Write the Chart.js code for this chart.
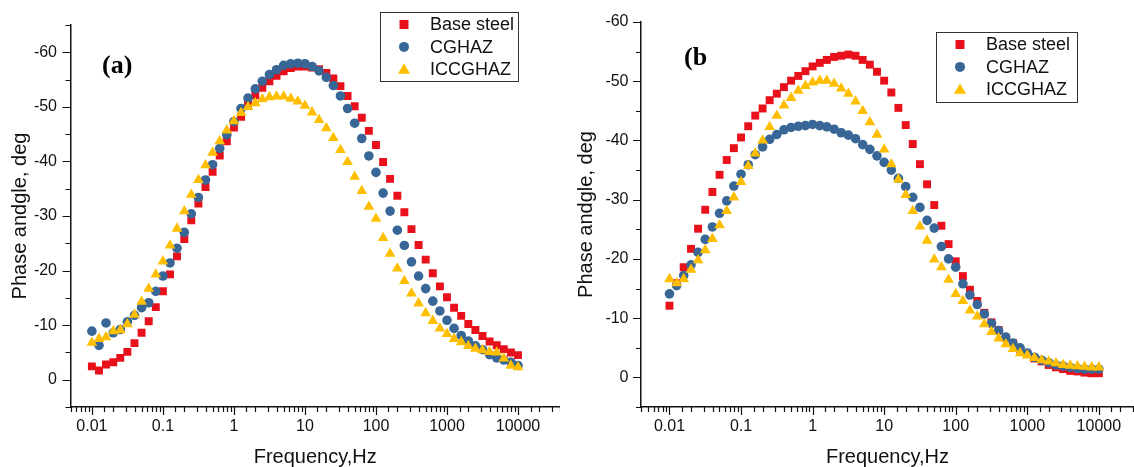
<!DOCTYPE html>
<html>
<head>
<meta charset="utf-8">
<script src="https://cdn.jsdelivr.net/npm/chart.js@4/dist/chart.umd.min.js"></script>
<style>
  html, body { margin: 0; padding: 0; background: #fff; }
  body { width: 1134px; height: 467px; position: relative; overflow: hidden; }
  canvas { position: absolute; top: 0; }
  #chartA { left: 0; }
  #chartB { left: 560px; }
</style>
</head>
<body>
<canvas id="chartA" width="560" height="467"></canvas>
<canvas id="chartB" width="574" height="467"></canvas>
<script>
// sweep frequencies, Hz (10 points per decade)
const frequency = [
    0.01, 0.0126, 0.0158, 0.02, 0.0251, 0.0316, 0.0398, 0.0501, 0.0631, 0.0794,
    0.1, 0.126, 0.158, 0.2, 0.251, 0.316, 0.398, 0.501, 0.631, 0.794,
    1, 1.26, 1.58, 2, 2.51, 3.16, 3.98, 5.01, 6.31, 7.94,
    10, 12.6, 15.8, 20, 25.1, 31.6, 39.8, 50.1, 63.1, 79.4,
    100, 126, 158, 200, 251, 316, 398, 501, 631, 794,
    1000, 1259, 1585, 1995, 2512, 3162, 3981, 5012, 6310, 7943, 10000
];

// panel (a), phase angle in deg
const baseSteelA = [
    -2.45, -1.7, -2.8, -3.2, -4.0, -5.1, -6.7, -8.6, -10.7, -13.3,
    -16.2, -19.3, -22.6, -25.8, -29.2, -32.3, -35.3, -38.1, -41.1, -43.7,
    -46.2, -48.2, -50.6, -52.1, -53.5, -54.7, -55.7, -56.5, -57.1, -57.4,
    -57.4, -57.2, -56.9, -56.2, -55.2, -53.8, -52.0, -50.1, -48.0, -45.6,
    -43.0, -39.9, -36.8, -33.7, -30.7, -27.6, -24.7, -22.0, -19.5, -17.1,
    -15.1, -13.2, -11.7, -10.2, -9.1, -8.0, -7.0, -6.3, -5.6, -5.0, -4.5
];
const cghazA = [
    -8.9, -6.3, -10.4, -8.6, -9.2, -10.6, -11.8, -13.2, -14.1, -16.2,
    -19.0, -21.4, -24.1, -27.0, -30.4, -33.4, -36.6, -39.4, -42.4, -44.9,
    -47.3, -49.7, -51.6, -53.3, -54.7, -55.9, -56.8, -57.6, -57.9, -58.0,
    -57.9, -57.4, -56.6, -55.4, -53.9, -52.0, -49.7, -47.0, -44.2, -41.0,
    -38.0, -34.2, -30.9, -27.4, -24.6, -21.6, -19.0, -16.7, -14.4, -12.6,
    -10.9, -9.4, -8.1, -7.1, -6.2, -5.5, -4.6, -4.0, -3.6, -3.2, -2.6
];
const iccghazA = [
    -6.8, -7.5, -7.8, -8.9, -9.1, -10.2, -11.9, -14.3, -16.7, -19.3,
    -21.7, -24.6, -27.7, -30.9, -33.9, -36.6, -39.3, -41.6, -43.7, -45.7,
    -47.4, -48.9, -50.0, -50.7, -51.4, -51.8, -51.9, -51.9, -51.5, -51.0,
    -50.2, -49.0, -47.6, -46.1, -44.3, -42.1, -39.9, -37.2, -34.6, -31.7,
    -29.5, -26.0, -23.1, -20.4, -18.1, -15.8, -14.0, -12.2, -10.8, -9.4,
    -8.4, -7.5, -6.9, -6.2, -5.7, -5.4, -5.1, -5.0, -3.9, -2.6, -2.3
];

// panel (b)
const baseSteelB = [
    -12.1, -15.9, -18.6, -21.7, -25.1, -28.3, -31.3, -34.2, -36.7, -38.7,
    -40.5, -42.4, -44.2, -45.4, -46.8, -47.9, -49.0, -50.1, -50.9, -51.7,
    -52.5, -53.1, -53.6, -54.1, -54.3, -54.5, -54.3, -53.6, -52.8, -51.6,
    -50.1, -48.1, -45.5, -42.6, -39.4, -36.0, -32.6, -29.1, -25.6, -22.5,
    -19.6, -17.1, -14.8, -12.9, -10.9, -9.3, -8.0, -6.7, -5.8, -4.8,
    -4.0, -3.2, -2.7, -2.1, -1.7, -1.4, -1.1, -1.0, -0.8, -0.7, -0.7
];
const cghazB = [
    -14.1, -15.5, -17.2, -19.0, -21.1, -23.3, -25.4, -27.7, -29.8, -32.3,
    -34.3, -35.9, -37.6, -38.9, -40.2, -41.0, -41.8, -42.2, -42.4, -42.5,
    -42.7, -42.5, -42.3, -41.9, -41.3, -40.9, -40.3, -39.3, -38.5, -37.4,
    -36.3, -35.0, -33.6, -32.2, -30.4, -28.7, -26.5, -25.2, -22.1, -20.0,
    -18.6, -15.8, -13.9, -12.3, -10.7, -9.1, -7.9, -6.8, -5.8, -5.0,
    -4.1, -3.4, -2.9, -2.5, -2.1, -1.9, -1.7, -1.5, -1.4, -1.4, -1.4
];
const iccghazB = [
    -16.6, -15.9, -16.6, -18.2, -19.8, -21.5, -23.4, -25.7, -28.1, -30.4,
    -33.0, -35.7, -37.8, -40.0, -42.3, -44.2, -45.9, -47.2, -48.4, -49.2,
    -49.8, -50.1, -50.1, -49.6, -48.8, -47.9, -46.6, -45.0, -43.1, -41.0,
    -38.5, -36.0, -33.4, -30.8, -28.1, -25.5, -23.1, -19.9, -18.6, -16.5,
    -14.1, -12.9, -11.3, -10.3, -9.0, -7.7, -6.6, -5.6, -4.8, -4.1,
    -3.7, -3.3, -2.9, -2.7, -2.4, -2.1, -2.0, -1.9, -1.8, -1.7, -1.7
];

const seriesNames = ['Base steel', 'CGHAZ', 'ICCGHAZ'];
const seriesColors = ['#e8101a', '#386797', '#ffbf00'];
const seriesShapes = ['rect', 'circle', 'triangle'];
const seriesRadius = [5.6, 4.8, 6.2];
const decades = [0.01, 0.1, 1, 10, 100, 1000, 10000];
const yMajor = [-60, -50, -40, -30, -20, -10, 0];

const FONT = '"Liberation Sans", Arial, sans-serif';

function isDecade(v) {
    const e = Math.log10(v);
    return Math.abs(e - Math.round(e)) < 1e-6;
}

// tick marks, panel letter and the boxed legend
const decorPlugin = {
    id: 'decor',
    afterDraw(chart, args, opts) {
        const ctx = chart.ctx;
        const xs = chart.scales.x;
        const ys = chart.scales.y;
        ctx.save();
        ctx.strokeStyle = '#111';
        ctx.lineWidth = 1.2;
        ctx.beginPath();
        ys.ticks.forEach(t => {
            const py = Math.round(ys.getPixelForValue(t.value)) + 0.5;
            const len = yMajor.includes(t.value) ? 8 : 5;
            ctx.moveTo(ys.right, py);
            ctx.lineTo(ys.right - len, py);
        });
        xs.ticks.forEach(t => {
            const px = Math.round(xs.getPixelForValue(t.value)) + 0.5;
            const len = isDecade(t.value) ? 8 : 5;
            ctx.moveTo(px, xs.top);
            ctx.lineTo(px, xs.top + len);
        });
        ctx.stroke();

        ctx.fillStyle = '#000';
        ctx.textBaseline = 'middle';
        ctx.font = 'bold 26px "Liberation Serif", "Times New Roman", serif';
        ctx.fillText(opts.panel, opts.panelX, opts.panelY);

        const box = opts.legend;
        ctx.strokeStyle = '#333';
        ctx.lineWidth = 1;
        ctx.strokeRect(box.x + 0.5, box.y + 0.5, box.w, box.h);
        ctx.font = '18px ' + FONT;
        chart.data.datasets.forEach((ds, i) => {
            const cy = box.y + 12.5 + i * 22.4;
            const cx = box.x + 24;
            ctx.fillStyle = ds.backgroundColor;
            ctx.beginPath();
            if (ds.pointStyle === 'rect') {
                ctx.rect(cx - 4.5, cy - 4.5, 9, 9);
            } else if (ds.pointStyle === 'circle') {
                ctx.arc(cx, cy, 5, 0, Math.PI * 2);
            } else {
                ctx.moveTo(cx, cy - 6);
                ctx.lineTo(cx + 6, cy + 4.5);
                ctx.lineTo(cx - 6, cy + 4.5);
                ctx.closePath();
            }
            ctx.fill();
            ctx.fillStyle = '#111';
            ctx.fillText(ds.label, box.x + 50, cy + 1);
        });
        ctx.restore();
    }
};

function makeChart(canvasId, series, cfg) {
    const datasets = series.map((vals, i) => ({
        label: seriesNames[i],
        data: frequency.map((f, k) => ({ x: f, y: vals[k] })),
        backgroundColor: seriesColors[i],
        borderColor: seriesColors[i],
        borderWidth: 0,
        pointStyle: seriesShapes[i],
        pointRadius: seriesRadius[i],
        pointHoverRadius: seriesRadius[i],
        showLine: false,
        order: 3 - i
    }));

    return new Chart(document.getElementById(canvasId), {
        type: 'scatter',
        data: { datasets },
        plugins: [decorPlugin],
        options: {
            responsive: false,
            animation: false,
            layout: { autoPadding: false, padding: { top: cfg.top, right: 0, bottom: 0, left: 0 } },
            plugins: {
                legend: { display: false },
                tooltip: { enabled: false },
                decor: cfg.decor
            },
            scales: {
                x: {
                    type: 'logarithmic',
                    min: cfg.xMin,
                    max: cfg.xMax,
                    // tick marks are drawn by the plugin; tickLength only spaces the labels
                    grid: { display: false, tickLength: 10 },
                    border: { display: true, color: '#111', width: 1.5 },
                    ticks: {
                        autoSkip: false,
                        maxRotation: 0,
                        padding: 0,
                        color: '#111',
                        font: { family: FONT, size: 16 },
                        callback: v => decades.some(d => Math.abs(v / d - 1) < 1e-6) ? String(Number(v.toPrecision(1))) : ''
                    },
                    title: {
                        display: true,
                        text: 'Frequency,Hz',
                        color: '#111',
                        font: { family: FONT, size: 20, lineHeight: 1 },
                        padding: { top: 0, bottom: 0 }
                    },
                    afterFit: s => { s.height = 60; }
                },
                y: {
                    reverse: true,
                    min: cfg.yMin,
                    max: 5,
                    grid: { display: false, tickLength: cfg.yLabelGap },
                    border: { display: true, color: '#111', width: 1.5 },
                    ticks: {
                        stepSize: 5,
                        autoSkip: false,
                        padding: 0,
                        color: '#111',
                        font: { family: FONT, size: 16 },
                        callback: v => yMajor.includes(v) ? String(v) : ''
                    },
                    title: {
                        display: true,
                        text: 'Phase andgle, deg',
                        color: '#111',
                        font: { family: FONT, size: 20, lineHeight: 1 },
                        padding: { top: cfg.yTitlePad, bottom: 0 }
                    },
                    afterFit: s => { s.width = cfg.yWidth; }
                }
            }
        }
    });
}

window.onload = () => {
    makeChart('chartA', [baseSteelA, cghazA, iccghazA], {
        top: 25, yWidth: 70.5, yTitlePad: 10, yLabelGap: 13.5,
        xMin: 0.005, xMax: 39000, yMin: -65,
        decor: { panel: '(a)', panelX: 102, panelY: 66, legend: { x: 380, y: 12, w: 138, h: 69 } }
    });
    makeChart('chartB', [baseSteelB, cghazB, iccghazB], {
        top: 22, yWidth: 81, yTitlePad: 16, yLabelGap: 12.5,
        xMin: 0.004, xMax: 31000, yMin: -60,
        decor: { panel: '(b', panelX: 124, panelY: 58, legend: { x: 376, y: 32, w: 141, h: 70 } }
    });
};
</script>
</body>
</html>
